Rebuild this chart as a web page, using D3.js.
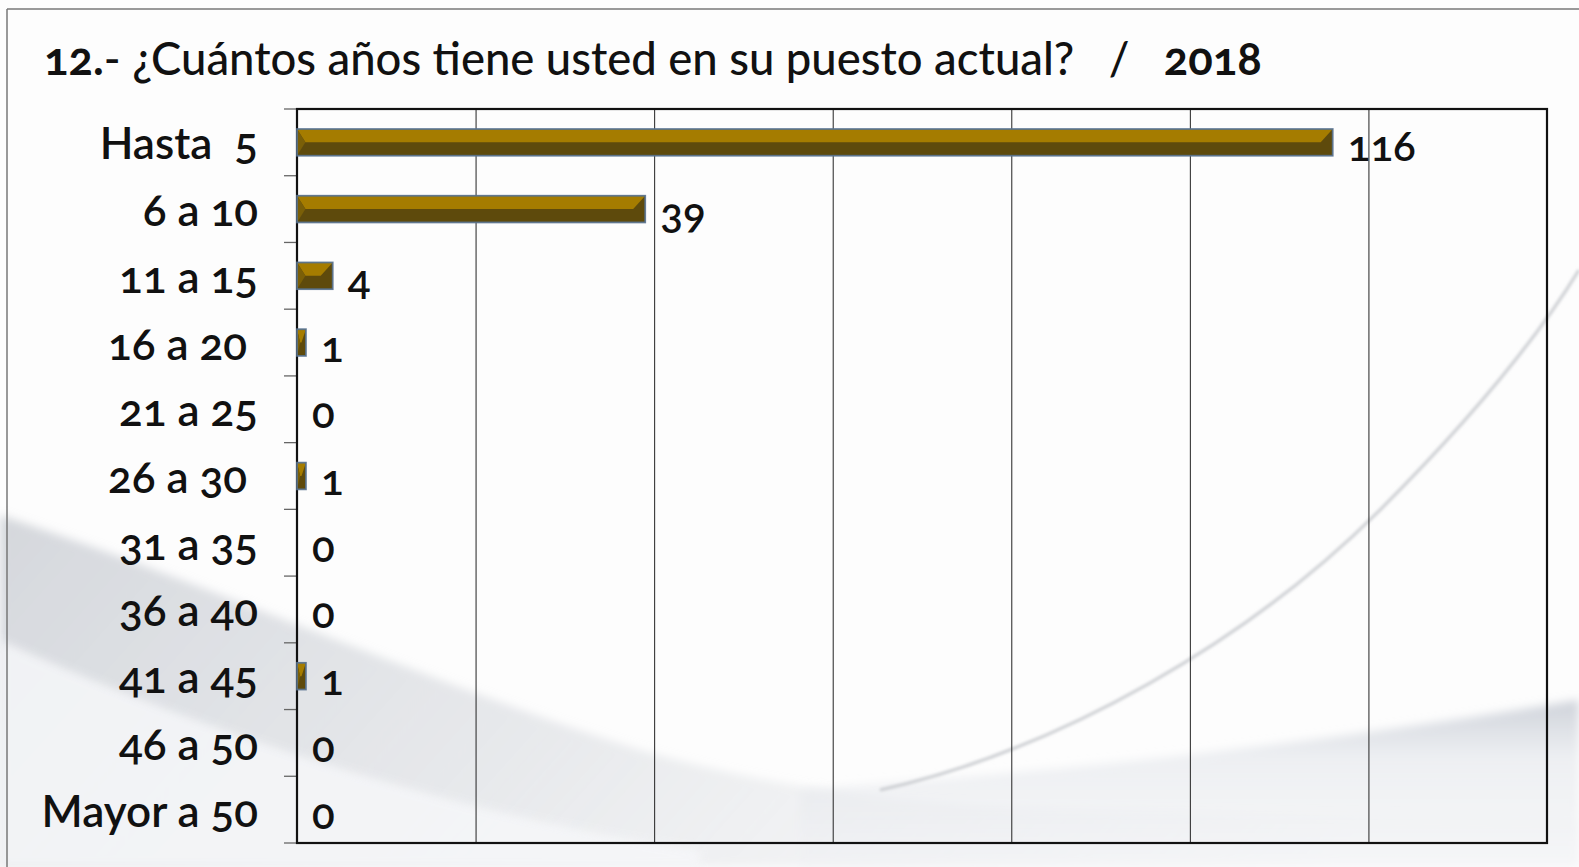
<!DOCTYPE html>
<html>
<head>
<meta charset="utf-8">
<script src="https://cdn.jsdelivr.net/npm/d3@7"></script>
<style>
  html, body { margin: 0; padding: 0; background: #ffffff; }
  svg { display: block; }
  text { font-family: Lato, "Open Sans", sans-serif; font-feature-settings: "onum" 1; }
</style>
</head>
<body>
<svg id="chart" width="1579" height="867"></svg>
<script>
// Years in current position, 2018 survey
const categories = ["Hasta  5", "6 a 10", "11 a 15", "16 a 20 ", "21 a 25", "26 a 30 ", "31 a 35", "36 a 40", "41 a 45", "46 a 50", "Mayor a 50"];
const values = [116, 39, 4, 1, 0, 1, 0, 0, 1, 0, 0];
const xTicks = [0, 20, 40, 60, 80, 100, 120, 140];
const titleParts = [
  { text: "12.", weight: 700 },
  { text: "- ¿Cuántos años tiene usted en su puesto actual?   /   ", weight: 500 },
  { text: "2018", weight: 700 }
];

const W = 1579, H = 867;
const plot = { left: 297, right: 1547, top: 109, bottom: 843 };

const svg = d3.select("#chart");
const defs = svg.append("defs");

// soft background swooshes
const blur = defs.append("filter").attr("id", "soft").attr("x", "-10%").attr("y", "-10%").attr("width", "120%").attr("height", "120%");
blur.append("feGaussianBlur").attr("stdDeviation", 5);
const blur2 = defs.append("filter").attr("id", "soft2");
blur2.append("feGaussianBlur").attr("stdDeviation", 1.5);

const gSwoosh = defs.append("linearGradient").attr("id", "swoosh").attr("x1", 0).attr("y1", 0).attr("x2", 1).attr("y2", 0.2);
gSwoosh.append("stop").attr("offset", "0%").attr("stop-color", "#b4b9c2").attr("stop-opacity", 0.55);
gSwoosh.append("stop").attr("offset", "45%").attr("stop-color", "#c8ccd3").attr("stop-opacity", 0.4);
gSwoosh.append("stop").attr("offset", "100%").attr("stop-color", "#e6e8ec").attr("stop-opacity", 0.15);

const gBand = defs.append("linearGradient").attr("id", "band").attr("x1", 0).attr("y1", 0).attr("x2", 0).attr("y2", 1);
gBand.append("stop").attr("offset", "0%").attr("stop-color", "#b9bfca").attr("stop-opacity", 0.7);
gBand.append("stop").attr("offset", "35%").attr("stop-color", "#e3e6eb").attr("stop-opacity", 0.6);
gBand.append("stop").attr("offset", "100%").attr("stop-color", "#f0f1f4").attr("stop-opacity", 0.5);

const bg = svg.append("g");
bg.append("rect").attr("width", W).attr("height", H).attr("fill", "#fdfdfd");
bg.append("path")
  .attr("d", "M0,515 C200,580 420,680 640,750 C800,795 930,805 1040,808 L1579,820 L1579,867 L0,867 Z")
  .attr("fill", "url(#swoosh)").attr("filter", "url(#soft)");
bg.append("path")
  .attr("d", "M0,640 C220,740 480,820 700,850 L700,867 L0,867 Z")
  .attr("fill", "#f6f7f9").attr("opacity", 0.85).attr("filter", "url(#soft)");
bg.append("path")
  .attr("d", "M800,790 C1000,775 1250,755 1579,700 L1579,867 L800,867 Z")
  .attr("fill", "url(#band)").attr("filter", "url(#soft)");
bg.append("path")
  .attr("d", "M880,790 C1060,750 1250,640 1380,510 C1460,430 1530,350 1579,270")
  .attr("fill", "none").attr("stroke", "#cbcdd1").attr("stroke-width", 3).attr("filter", "url(#soft2)");

// slide frame
svg.append("line").attr("x1", 7).attr("y1", 9).attr("x2", W).attr("y2", 9).attr("stroke", "#777").attr("stroke-width", 1.5);
svg.append("line").attr("x1", 7).attr("y1", 9).attr("x2", 7).attr("y2", H).attr("stroke", "#777").attr("stroke-width", 1.5);

// scales
const x = d3.scaleLinear().domain([0, 140]).range([plot.left, plot.right]);
const y = d3.scaleBand().domain(categories).range([plot.top, plot.bottom]).paddingInner(0.6).paddingOuter(0.3);
const yb = d3.scaleBand().domain(categories).range([plot.top, plot.bottom]);

// vertical gridlines
svg.append("g")
  .attr("transform", `translate(0,${plot.bottom})`)
  .call(d3.axisBottom(x).tickValues(xTicks).tickSize(-(plot.bottom - plot.top)).tickFormat(""))
  .call(g => g.select(".domain").remove())
  .call(g => g.selectAll(".tick line").attr("stroke", "#222").attr("stroke-width", 1));

// category ticks on the left
const yTickPos = categories.map(c => yb(c)).concat([plot.bottom]);
svg.append("g").selectAll("line").data(yTickPos).join("line")
  .attr("x1", plot.left - 13).attr("x2", plot.left)
  .attr("y1", d => d).attr("y2", d => d)
  .attr("stroke", "#666").attr("stroke-width", 1.3);

// plot frame
svg.append("rect")
  .attr("x", plot.left).attr("y", plot.top)
  .attr("width", plot.right - plot.left).attr("height", plot.bottom - plot.top)
  .attr("fill", "none").attr("stroke", "#111").attr("stroke-width", 2.2);

// bevelled bars
const bars = svg.append("g").selectAll("g").data(categories.map((c, i) => ({ c, v: values[i] })).filter(d => d.v > 0)).join("g");
bars.each(function(d) {
  const g = d3.select(this);
  const x0 = x(0), x1 = x(d.v);
  const t = y(d.c), h = y.bandwidth(), b = t + h, m = t + h / 2;
  const bev = Math.min(h * 0.45, (x1 - x0) / 2);
  g.append("rect").attr("x", x0).attr("y", t).attr("width", x1 - x0).attr("height", h)
    .attr("fill", "#5e4a0c");
  g.append("path")
    .attr("d", `M${x0},${t}L${x1},${t}L${x1 - bev},${m}L${x0 + bev * 0.7},${m}Z`)
    .attr("fill", "#a57c00");
  g.append("path")
    .attr("d", `M${x0},${t}L${x0 + bev * 0.7},${m}L${x0},${b}Z`)
    .attr("fill", "#7a5f08");
  g.append("rect").attr("x", x0).attr("y", t).attr("width", x1 - x0).attr("height", h)
    .attr("fill", "none").attr("stroke", "#56718f").attr("stroke-width", 1.8).attr("stroke-opacity", 0.9);
});

// value labels
svg.append("g").selectAll("text").data(categories.map((c, i) => ({ c, v: values[i] }))).join("text")
  .attr("x", d => x(d.v) + 15)
  .attr("y", d => yb(d.c) + yb.bandwidth() / 2 + 3)
  .attr("dominant-baseline", "central")
  .attr("font-size", 42).attr("font-weight", 600).attr("fill", "#111")
  .text(d => d.v);

// category labels
svg.append("g").selectAll("text").data(categories).join("text")
  .attr("x", 258)
  .attr("y", d => yb(d) + yb.bandwidth() / 2)
  .attr("dominant-baseline", "central")
  .attr("text-anchor", "end")
  .attr("font-size", 44).attr("font-weight", 600).attr("fill", "#111")
  .style("white-space", "pre")
  .text(d => d);

// title, sized to span the header width
const title = svg.append("text").attr("x", 44).attr("y", 75)
  .attr("font-size", 40).attr("fill", "#111").style("white-space", "pre");
title.selectAll("tspan").data(titleParts).join("tspan")
  .attr("font-weight", d => d.weight).text(d => d.text);
const tw = title.node().getComputedTextLength();
title.attr("font-size", 40 * 1218 / tw);
</script>
</body>
</html>
